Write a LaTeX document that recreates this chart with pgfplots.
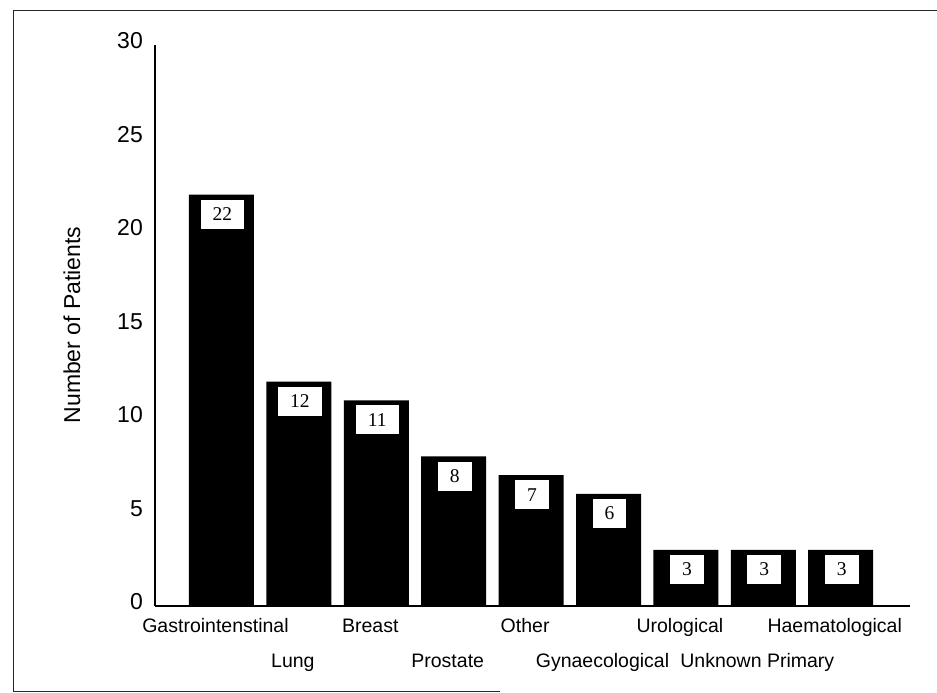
\documentclass[border=0pt]{standalone}
\usepackage{pgfplots}
\pgfplotsset{compat=1.18}
\usepackage{fontspec}
\setmainfont{Liberation Sans}
\newfontfamily\serifnum{Liberation Serif}
\begin{document}
\begin{tikzpicture}[x=1pt,y=1pt]
\path[use as bounding box] (0,0) rectangle (937,693);
\draw[line width=1pt, black!85] (937,682) -- (13,682) -- (13,1) -- (500,1);
\begin{axis}[
  at={(155pt,87pt)}, anchor=south west,
  scale only axis, width=755pt, height=561pt,
  xmin=-0.859, xmax=8.895, ymin=0, ymax=30,
  axis x line=bottom, axis y line=left,
  axis line style={-, line width=1.5pt},
  major tick length=0pt, tick style={draw=none},
  ytick={0,5,...,30},
  /pgf/number format/assume math mode=true,
  yticklabel style={font=\fontsize{23}{23}\selectfont, anchor=east, inner sep=0pt, xshift=-12pt, yshift=4pt},
  xtick={0,...,8},
  xticklabels={Gastrointenstinal, {\raisebox{-35pt}{Lung}}, Breast, {\raisebox{-35pt}{Prostate}}, Other, {\raisebox{-35pt}{Gynaecological}}, Urological, {\raisebox{-35pt}{Unknown Primary}}, Haematological},
  xticklabel style={font=\fontsize{19.5}{19.5}\selectfont, anchor=base, inner sep=0pt, yshift=-27pt, xshift=-6pt},
  every axis y label/.style={at={(axis description cs:-0.110,0.501)}, anchor=center, rotate=90, font=\fontsize{23}{23}\selectfont},
  ylabel={Number of Patients},
  clip=false,
  ybar, bar width=65pt,
  nodes near coords,
  every node near coord/.append style={anchor=north, yshift=-5pt, xshift=1pt, fill=white, text=black, font=\serifnum\fontsize{19.5}{19.5}\selectfont, inner xsep=12pt, inner ysep=0pt, minimum height=29pt},
]
\addplot[fill=black, draw=none] coordinates {(0,22) (1,12) (2,11) (3,8) (4,7) (5,6) (6,3) (7,3) (8,3)};
\end{axis}
\end{tikzpicture}
\end{document}
